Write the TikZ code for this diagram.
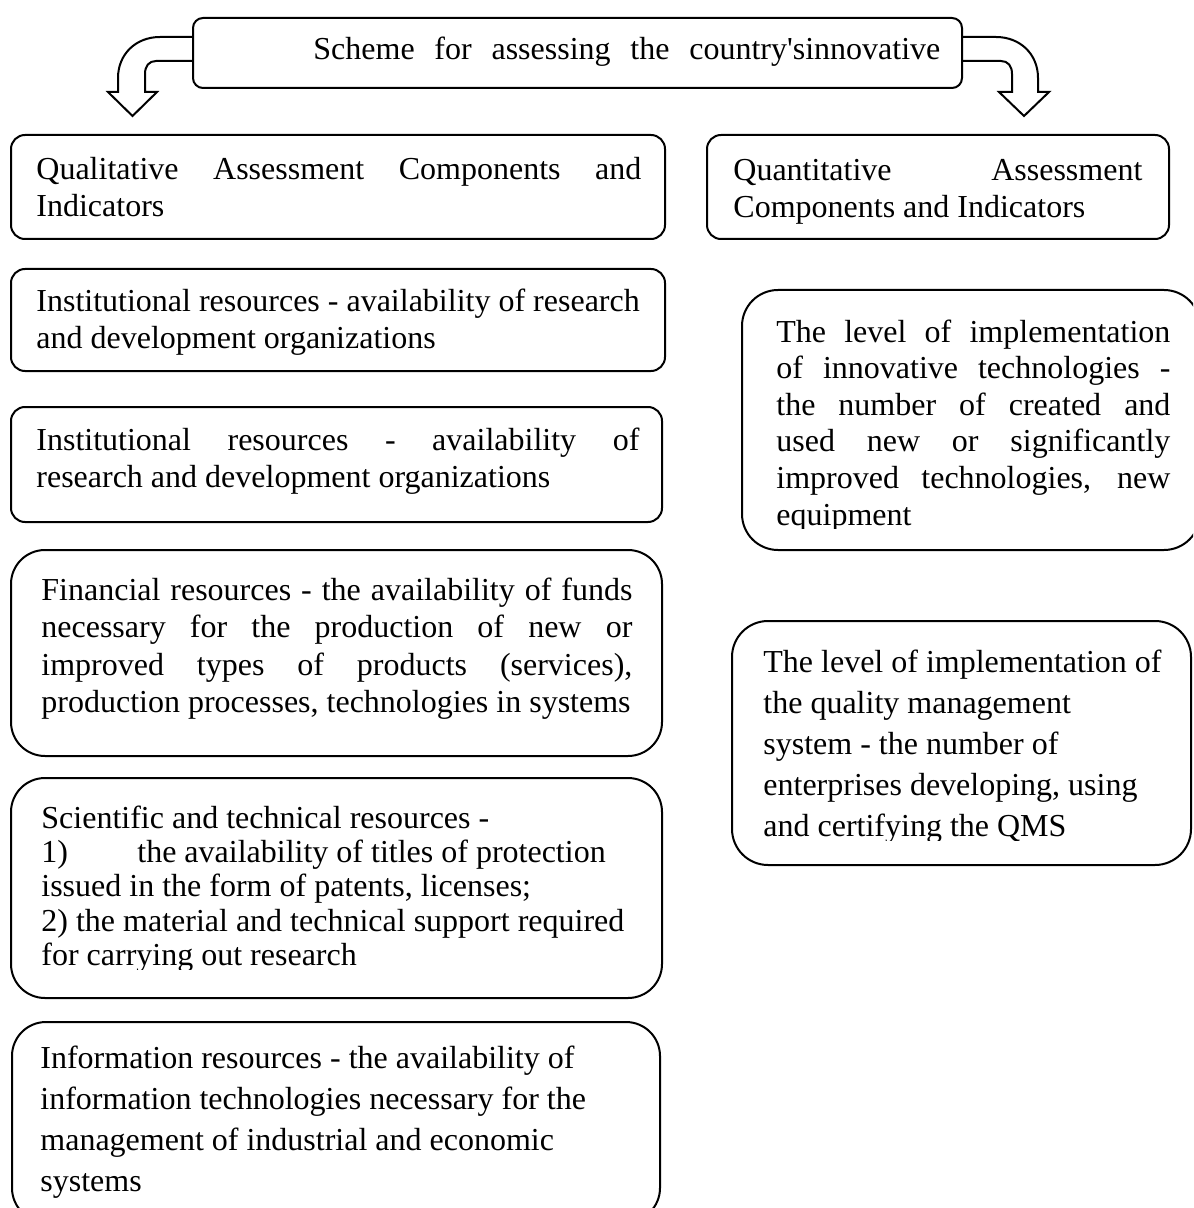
\documentclass[tikz,border=0pt]{standalone}
\usepackage{fontspec}
\setmainfont{Liberation Serif}
\usetikzlibrary{fit}
\newcommand\jline[2]{\makebox[#1][s]{#2}}
\begin{document}
\begin{tikzpicture}[x=0.5pt,y=-0.5pt,
  box/.style={draw, line width=1pt, inner sep=0pt, rounded corners=#1},
  box/.default=7pt,
  txt/.style={anchor=base west, inner sep=0pt, align=left, font=\fontsize{16pt}{#1}\selectfont},
  barrow/.style={draw, line width=1pt, line join=miter}]
\clip (0,0) rectangle (1193,1208);

% title
\node[box=5pt, fit={(193,18) (962,88)}] (title) {};
\node[txt=18pt] (titleT) at (313,60) {\jline{313.5pt}{Scheme for assessing the country\textquotesingle sinnovative}};

% block arrows
\draw[barrow] (193,37) -- (160,37) .. controls (136,37) and (118,54) .. (118,78) -- (118,92) -- (108,92) -- (132.5,116) -- (157,92) -- (145,92) -- (145,74) .. controls (145,66) and (149,61) .. (156,61) -- (193,61);
\draw[barrow] (962,37) -- (996,37) .. controls (1020,37) and (1038,54) .. (1038,78) -- (1038,92) -- (1049,92) -- (1024,116) -- (999,92) -- (1012,92) -- (1012,74) .. controls (1012,66) and (1008,61) .. (1001,61) -- (962,61);

% left column (text nodes are anchored at the baseline of their last line)
\node[box=7pt, fit={(11,135) (665,239)}] (qual) {};
\node[txt=18.5pt] (qualT) at (36,217) {\jline{302.5pt}{Qualitative Assessment Components and}\\Indicators};

\node[box=7pt, fit={(11,269) (665,371)}] (inst1) {};
\node[txt=18pt] (inst1T) at (36,348) {Institutional resources - availability of research\\and development organizations};

\node[box=7pt, fit={(11,407) (662,522)}] (inst2) {};
\node[txt=18.5pt] (inst2T) at (36,487) {\jline{301.5pt}{Institutional resources - availability of}\\research and development organizations};

\node[box=17pt, fit={(11,550) (662,756)}] (fin) {};
\node[txt=18.8pt] (finT) at (41,712.8) {\jline{295.5pt}{Financial resources - the availability of funds}\\\jline{295.5pt}{necessary for the production of new or}\\\jline{295.5pt}{improved types of products (services),}\\production processes, technologies in systems};

\node[box=17pt, fit={(11,778) (662,998)}] (sci) {};
\begin{scope}
\clip (0,0) rectangle (1193,969);
\node[txt=17.2pt] (sciT) at (41,965.6) {Scientific and technical resources -\\\makebox[48pt][l]{1)}the availability of titles of protection\\issued in the form of patents, licenses;\\2) the material and technical support required\\for carrying out research};
\end{scope}

\node[box=17pt, fit={(12,1022) (660,1222)}] (info) {};
\node[txt=20.5pt] (infoT) at (40,1191) {Information resources - the availability of\\information technologies necessary for the\\management of industrial and economic\\systems};

% right column
\node[box=7pt, fit={(707,135) (1169,239)}] (quant) {};
\node[txt=18.5pt] (quantT) at (733,218) {\jline{204.5pt}{Quantitative Assessment}\\Components and Indicators};

\node[box=18pt, fit={(742,290) (1200,550)}] (r1) {};
\begin{scope}
\clip (0,0) rectangle (1193,528);
\node[txt=18.3pt] (r1T) at (776,525) {\jline{197pt}{The level of implementation}\\\jline{197pt}{of innovative technologies -}\\\jline{197pt}{the number of created and}\\\jline{197pt}{used new or significantly}\\\jline{197pt}{improved technologies, new}\\equipment};
\end{scope}

\node[box=18pt, fit={(732,621) (1191,865)}] (r2) {};
\begin{scope}
\clip (0,0) rectangle (1193,840);
\node[txt=20.5pt] (r2T) at (763,836) {The level of implementation of\\the quality management\\system - the number of\\enterprises developing, using\\and certifying the QMS};
\end{scope}
\end{tikzpicture}
\end{document}
